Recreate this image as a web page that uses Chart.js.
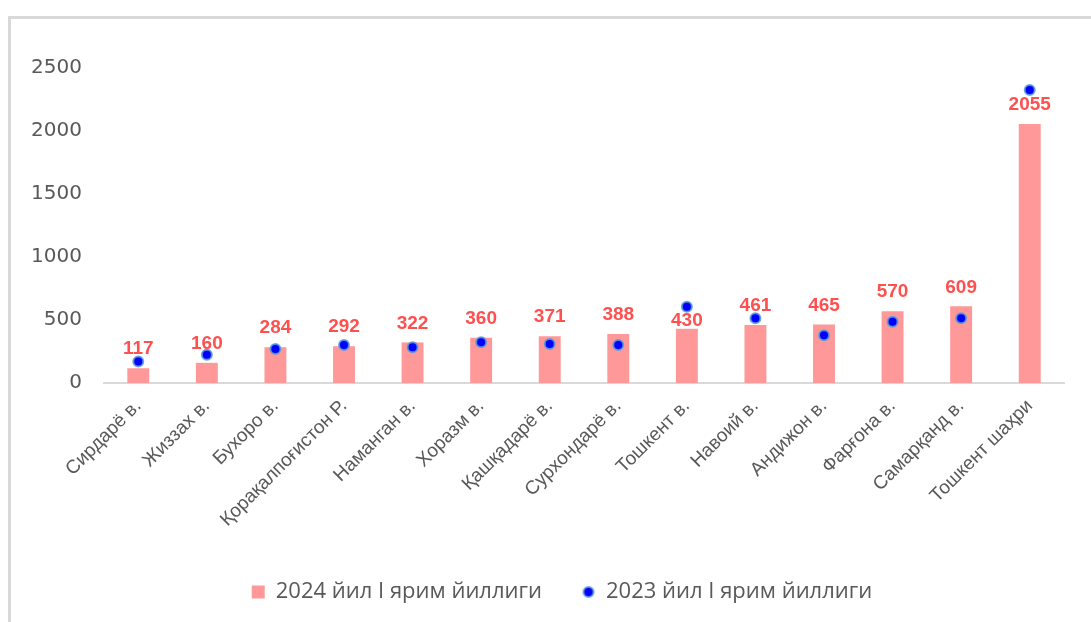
<!DOCTYPE html>
<html>
<head>
<meta charset="utf-8">
<script src="https://cdn.jsdelivr.net/npm/chart.js@4.4.1/dist/chart.umd.min.js"></script>
<style>
  html, body { margin: 0; padding: 0; background: #fff; }
  #wrap { position: relative; width: 1091px; height: 622px; }
  #frame {
    position: absolute; left: 8px; top: 16px; right: 0; bottom: 0;
    border-left: 3px solid #d9d9d9; border-top: 3px solid #d9d9d9;
    pointer-events: none;
  }
</style>
</head>
<body>
<div id="wrap">
  <canvas id="chart"></canvas>
  <div id="frame"></div>
</div>
<script>
// Regions, sorted by the 2024 value
const regions = [
    'Сирдарё в.', 'Жиззах в.', 'Бухоро в.', 'Қорақалпоғистон Р.', 'Наманган в.',
    'Хоразм в.', 'Қашқадарё в.', 'Сурхондарё в.', 'Тошкент в.', 'Навоий в.',
    'Андижон в.', 'Фарғона в.', 'Самарқанд в.', 'Тошкент шаҳри'
];
const values2024 = [117, 160, 284, 292, 322, 360, 371, 388, 430, 461, 465, 570, 609, 2055];
// 2023 values are not labelled
const values2023 = [170, 225, 270, 302, 283, 323, 310, 302, 606, 514, 379, 487, 514, 2326];
const yTicks = [0, 500, 1000, 1500, 2000, 2500];
const seriesNames = ['2024 йил I ярим йиллиги', '2023 йил I ярим йиллиги'];

document.addEventListener('DOMContentLoaded', () => {
    const barColor = '#ff9999';
    const labelColor = '#ff5050';
    const dotColor = '#0000ff';
    const haloColor = 'rgba(91,155,213,0.85)';
    const textGray = '#595959';

    // small dot used as the legend marker of the 2023 series
    const legendDot = document.createElement('canvas');
    legendDot.width = 14;
    legendDot.height = 14;
    const dctx = legendDot.getContext('2d');
    dctx.beginPath();
    dctx.arc(7, 7, 5, 0, Math.PI * 2);
    dctx.fillStyle = dotColor;
    dctx.fill();
    dctx.lineWidth = 2;
    dctx.strokeStyle = haloColor;
    dctx.stroke();

    // value labels above the bars, moved under the dot when they would collide
    const barLabels = {
        id: 'barLabels',
        afterDatasetsDraw(chart) {
            const ctx = chart.ctx;
            const bars = chart.getDatasetMeta(0).data;
            const dots = chart.getDatasetMeta(1).data;
            ctx.save();
            ctx.font = 'bold 19px "Liberation Sans", Arial, sans-serif';
            ctx.fillStyle = labelColor;
            ctx.textAlign = 'center';
            ctx.textBaseline = 'middle';
            bars.forEach((bar, i) => {
                let y = bar.y - 19;
                const dotY = dots[i].y;
                if (Math.abs(y - dotY) < 10) y = dotY + 14;
                ctx.fillText(String(values2024[i]), bar.x, y);
            });
            ctx.restore();
        }
    };

    // legend sits a bit right of the page centre in the original
    const legendShift = {
        id: 'legendShift',
        afterLayout(chart) {
            chart.legend.left += 20;
            chart.legend.right += 20;
        }
    };

    new Chart(document.getElementById('chart'), {
        data: {
            labels: regions,
            datasets: [
                {
                    type: 'bar',
                    label: seriesNames[0],
                    data: values2024,
                    backgroundColor: barColor,
                    categoryPercentage: 1,
                    barPercentage: 0.32,
                    pointStyle: 'rect',
                    order: 1
                },
                {
                    type: 'line',
                    label: seriesNames[1],
                    data: values2023,
                    showLine: false,
                    pointRadius: 5,
                    pointBorderWidth: 2,
                    pointBackgroundColor: dotColor,
                    pointBorderColor: haloColor,
                    pointStyle: 'circle',
                    order: 0
                }
            ]
        },
        options: {
            responsive: true,
            maintainAspectRatio: false,
            animation: false,
            layout: { padding: { left: 20, right: 27, top: 68, bottom: 9 } },
            plugins: {
                tooltip: { enabled: false },
                legend: {
                    position: 'bottom',
                    labels: {
                        usePointStyle: true,
                        boxWidth: 13,
                        boxHeight: 13,
                        padding: 40,
                        color: textGray,
                        font: { family: '"Open Sans", sans-serif', size: 22 },
                        sort: (a, b) => a.datasetIndex - b.datasetIndex,
                        generateLabels(chart) {
                            const items = Chart.defaults.plugins.legend.labels.generateLabels(chart);
                            items.forEach(it => {
                                if (it.datasetIndex === 0) {
                                    it.pointStyle = 'rect';
                                    it.fillStyle = barColor;
                                    it.strokeStyle = barColor;
                                    it.lineWidth = 0;
                                } else {
                                    it.pointStyle = legendDot;
                                }
                            });
                            return items;
                        }
                    }
                }
            },
            scales: {
                x: {
                    grid: { display: false, drawTicks: false },
                    border: { color: '#d9d9d9', width: 2 },
                    ticks: {
                        color: textGray,
                        minRotation: 45,
                        maxRotation: 45,
                        padding: 12,
                        font: { family: '"Liberation Sans", Arial, sans-serif', size: 19 }
                    },
                    afterFit(scale) { scale.height = 158; }
                },
                y: {
                    min: 0,
                    max: 2500,
                    grid: { display: false, drawTicks: false },
                    border: { display: false },
                    afterBuildTicks(scale) {
                        scale.ticks = yTicks.map(v => ({ value: v }));
                    },
                    ticks: {
                        color: textGray,
                        padding: 22,
                        font: { family: '"DejaVu Sans", sans-serif', size: 20 },
                        callback: v => String(v)
                    },
                    afterFit(scale) { scale.width = 84; }
                }
            }
        },
        plugins: [barLabels, legendShift]
    });
});
</script>
</body>
</html>
